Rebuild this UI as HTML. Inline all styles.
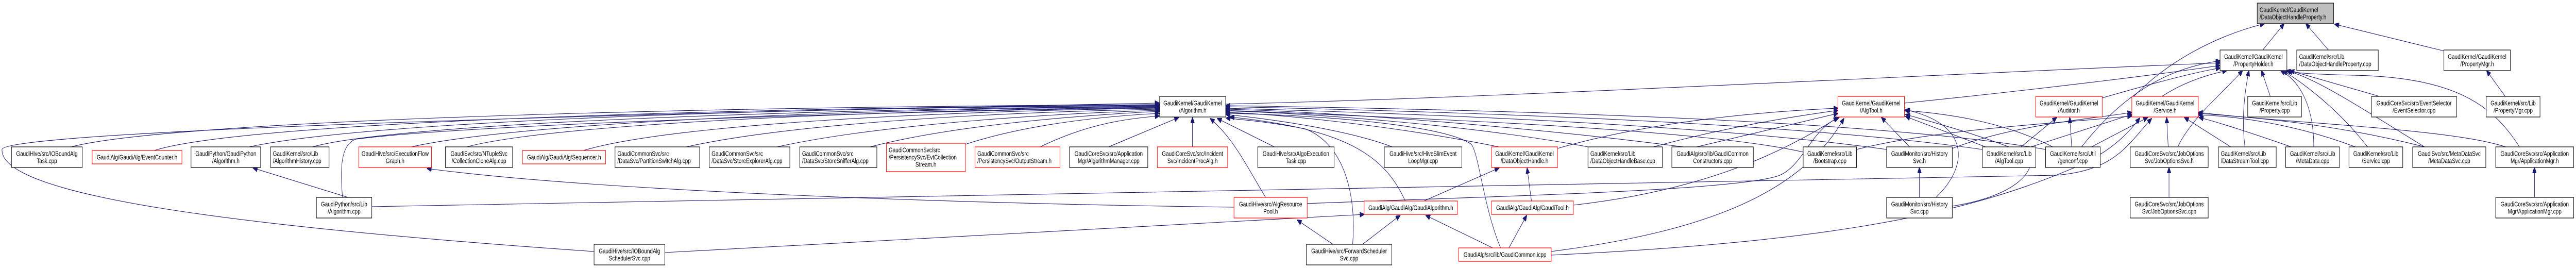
<!DOCTYPE html>
<html><head><meta charset="utf-8"><meta name="viewport" content="width=6513,initial-scale=1"><style>
html,body{margin:0;padding:0;background:#fff;width:100%;height:100%;overflow:hidden;}
svg{display:block;position:fixed;left:0;top:0;width:100vw;height:100vh;}
text{font-family:"Liberation Sans",Arial,sans-serif;font-size:13px;fill:#000;}
.e{fill:none;stroke:#191970;stroke-width:1.1;}
rect{stroke-width:1.2;}
.b{fill:#fff;stroke:#000;}
.r{fill:#fff;stroke:#ff0000;}
.g{fill:#bfbfbf;stroke:#000;}
</style></head><body>
<svg viewBox="0 0 6513 520" preserveAspectRatio="none" xmlns="http://www.w3.org/2000/svg">
<defs><marker id="a" markerWidth="12" markerHeight="10" refX="11" refY="5" orient="auto" markerUnits="userSpaceOnUse"><path d="M0,0 L12,5 L0,10 z" fill="#191970" stroke="#191970"/></marker></defs>
<g>
<path class="e" marker-end="url(#a)" d="M3099,202 C3800,190 5000,140 5613,122"/>
<path class="e" marker-end="url(#a)" d="M4815,200 C5200,170 5500,140 5613,127"/>
<path class="e" marker-end="url(#a)" d="M5315,190 C5450,160 5550,140 5613,132"/>
<path class="e" marker-end="url(#a)" d="M5466,187 C5520,160 5580,145 5630,137"/>
<path class="e" marker-end="url(#a)" d="M5395,187 C5480,120 5600,70 5725,46"/>
<path class="e" marker-end="url(#a)" d="M5721,97 L5775,46"/>
<path class="e" marker-end="url(#a)" d="M5887,97 L5830,46"/>
<path class="e" marker-end="url(#a)" d="M6180,99 L5903,47"/>
<path class="e" marker-end="url(#a)" d="M5740,187 L5718,137"/>
<path class="e" marker-end="url(#a)" d="M6016,187 L5790,137"/>
<path class="e" marker-end="url(#a)" d="M6334,187 L6287,137"/>
<path class="e" marker-end="url(#a)" d="M6370,285 C6300,200 6200,150 5950,146 C5850,144 5800,142 5785,137"/>
<path class="e" marker-end="url(#a)" d="M6335,285 C6200,250 5800,240 5558,218"/>
<path class="e" marker-end="url(#a)" d="M6130,285 C5900,240 5700,228 5558,220"/>
<path class="e" marker-end="url(#a)" d="M6130,285 C5950,200 5850,150 5780,137"/>
<path class="e" marker-end="url(#a)" d="M5955,285 C5800,240 5650,225 5558,223"/>
<path class="e" marker-end="url(#a)" d="M5986,285 C5900,200 5800,150 5772,137"/>
<path class="e" marker-end="url(#a)" d="M5793,285 C5700,260 5600,235 5560,228"/>
<path class="e" marker-end="url(#a)" d="M5850,285 C5850,200 5810,155 5766,137"/>
<path class="e" marker-end="url(#a)" d="M5640,285 L5523,228"/>
<path class="e" marker-end="url(#a)" d="M5676,285 C5665,220 5680,160 5686,137"/>
<path class="e" marker-end="url(#a)" d="M5482,285 L5478,228"/>
<path class="e" marker-end="url(#a)" d="M5506,285 C5540,230 5620,180 5670,137"/>
<path class="e" marker-end="url(#a)" d="M5484,383 L5484,325"/>
<path class="e" marker-end="url(#a)" d="M6408,383 L6408,325"/>
<path class="e" marker-end="url(#a)" d="M5288,285 L5430,228"/>
<path class="e" marker-end="url(#a)" d="M5238,285 L5233,228"/>
<path class="e" marker-end="url(#a)" d="M5190,285 C5050,230 4900,220 4815,214"/>
<path class="e" marker-end="url(#a)" d="M5263,285 C5380,170 5500,130 5613,118"/>
<path class="e" marker-end="url(#a)" d="M5020,285 L4818,226"/>
<path class="e" marker-end="url(#a)" d="M5110,285 L5200,228"/>
<path class="e" marker-end="url(#a)" d="M5135,285 L5390,222"/>
<path class="e" marker-end="url(#a)" d="M4828,285 L4757,228"/>
<path class="e" marker-end="url(#a)" d="M4936,288 C5100,240 5300,230 5390,218"/>
<path class="e" marker-end="url(#a)" d="M4853,383 L4853,325"/>
<path class="e" marker-end="url(#a)" d="M4895,383 C4980,320 4980,240 4818,213"/>
<path class="e" marker-end="url(#a)" d="M4694,290 C4900,250 5200,240 5390,225"/>
<path class="e" marker-end="url(#a)" d="M4559,295 C4300,250 3600,230 3099,214"/>
<path class="e" marker-end="url(#a)" d="M4770,290 C4400,250 3800,225 3099,210"/>
<path class="e" marker-end="url(#a)" d="M5012,290 C4600,245 3900,220 3099,207"/>
<path class="e" marker-end="url(#a)" d="M5172,290 C4800,240 4000,215 3099,205"/>
<path class="e" marker-end="url(#a)" d="M4180,285 C4400,240 4550,225 4647,214"/>
<path class="e" marker-end="url(#a)" d="M4290,285 L4647,220"/>
<path class="e" marker-end="url(#a)" d="M4015,285 C3700,240 3300,220 3099,215"/>
<path class="e" marker-end="url(#a)" d="M4256,285 C3800,240 3300,215 3099,212"/>
<path class="e" marker-end="url(#a)" d="M3938,288 C4200,230 4500,215 4647,210"/>
<path class="e" marker-end="url(#a)" d="M3790,285 C3500,240 3200,220 3099,218"/>
<path class="e" marker-end="url(#a)" d="M3520,285 C3400,250 3200,230 3099,222"/>
<path class="e" marker-end="url(#a)" d="M3222,285 L3078,230"/>
<path class="e" marker-end="url(#a)" d="M3015,285 L3015,228"/>
<path class="e" marker-end="url(#a)" d="M2803,285 L2980,228"/>
<path class="e" marker-end="url(#a)" d="M2630,285 C2750,240 2850,230 2931,225"/>
<path class="e" marker-end="url(#a)" d="M2441,280 C2600,240 2800,225 2931,220"/>
<path class="e" marker-end="url(#a)" d="M2200,285 C2400,245 2700,225 2931,216"/>
<path class="e" marker-end="url(#a)" d="M1965,285 C2200,245 2600,222 2931,214"/>
<path class="e" marker-end="url(#a)" d="M1735,285 C2000,240 2500,218 2931,212"/>
<path class="e" marker-end="url(#a)" d="M1475,292 C1700,240 2400,215 2931,210"/>
<path class="e" marker-end="url(#a)" d="M1180,285 C1400,240 2200,214 2931,208"/>
<path class="e" marker-end="url(#a)" d="M1040,285 C1300,240 2100,212 2931,207"/>
<path class="e" marker-end="url(#a)" d="M790,285 C1000,240 2000,212 2931,206"/>
<path class="e" marker-end="url(#a)" d="M630,285 C900,240 1800,210 2931,205"/>
<path class="e" marker-end="url(#a)" d="M390,292 C600,240 1700,210 2931,204"/>
<path class="e" marker-end="url(#a)" d="M180,285 C400,240 1500,208 2931,203"/>
<path class="e" marker-end="url(#a)" d="M1502,488 C600,440 0,380 5,290 C10,265 800,232 2931,200"/>
<path class="e" marker-end="url(#a)" d="M3553,390 C3500,300 3400,250 3110,227"/>
<path class="e" marker-end="url(#a)" d="M3600,390 L3790,326"/>
<path class="e" marker-end="url(#a)" d="M3872,390 L3861,326"/>
<path class="e" marker-end="url(#a)" d="M3978,398 C4300,370 4500,300 4647,228"/>
<path class="e" marker-end="url(#a)" d="M3774,481 L3605,418"/>
<path class="e" marker-end="url(#a)" d="M3815,481 L3860,418"/>
<path class="e" marker-end="url(#a)" d="M3794,481 C3750,400 3740,300 3720,280 C3650,240 3300,222 3099,220"/>
<path class="e" marker-end="url(#a)" d="M3922,488 C4300,450 4550,380 4662,230"/>
<path class="e" marker-end="url(#a)" d="M3445,474 L3540,418"/>
<path class="e" marker-end="url(#a)" d="M3370,474 L3280,427"/>
<path class="e" marker-end="url(#a)" d="M3420,474 C3430,380 3400,280 3300,250 C3200,235 3130,232 3100,229"/>
<path class="e" marker-end="url(#a)" d="M3200,383 C3150,320 3120,270 3060,230"/>
<path class="e" marker-end="url(#a)" d="M3120,402 C2400,395 1500,370 1080,327"/>
<path class="e" marker-end="url(#a)" d="M1681,490 C2400,460 3100,430 3449,416"/>
<path class="e" marker-end="url(#a)" d="M880,383 L640,326"/>
<path class="e" marker-end="url(#a)" d="M866,383 C860,330 860,280 900,270 C1200,240 2300,215 2931,209"/>
<path class="e" marker-end="url(#a)" d="M940,401 C2500,390 4000,370 5200,340 C5350,330 5380,280 5440,230"/>
<path class="e" marker-end="url(#a)" d="M3305,395 C3800,380 4400,370 4500,340 C4560,320 4580,250 4650,228"/>
<path class="e" marker-end="url(#a)" d="M4936,400 C5100,380 5150,330 5130,300 C5000,260 4900,240 4818,222"/>
<path class="e" marker-end="url(#a)" d="M3922,495 C4600,470 4950,420 5230,330 C5330,300 5380,260 5410,229"/>
</g>
<rect class="g" x="5707" y="6" width="193" height="40"/>
<text x="5713" y="23.5">GaudiKernel/GaudiKernel</text><text x="5713" y="37.5">/DataObjectHandleProperty.h</text>
<rect class="b" x="5613" y="97" width="169" height="40"/>
<text x="5697.5" y="114.5" text-anchor="middle">GaudiKernel/GaudiKernel</text><text x="5697.5" y="128.5" text-anchor="middle">/PropertyHolder.h</text>
<rect class="b" x="5807" y="97" width="206" height="40"/>
<text x="5813" y="114.5">GaudiKernel/src/Lib</text><text x="5813" y="128.5">/DataObjectHandleProperty.cpp</text>
<rect class="b" x="6179" y="97" width="168" height="40"/>
<text x="6263" y="114.5" text-anchor="middle">GaudiKernel/GaudiKernel</text><text x="6263" y="128.5" text-anchor="middle">/PropertyMgr.h</text>
<rect class="b" x="2932" y="187" width="167" height="40"/>
<text x="3015.5" y="204.5" text-anchor="middle">GaudiKernel/GaudiKernel</text><text x="3015.5" y="218.5" text-anchor="middle">/Algorithm.h</text>
<rect class="r" x="4647" y="187" width="168" height="40"/>
<text x="4731" y="204.5" text-anchor="middle">GaudiKernel/GaudiKernel</text><text x="4731" y="218.5" text-anchor="middle">/AlgTool.h</text>
<rect class="r" x="5147" y="187" width="168" height="40"/>
<text x="5231" y="204.5" text-anchor="middle">GaudiKernel/GaudiKernel</text><text x="5231" y="218.5" text-anchor="middle">/Auditor.h</text>
<rect class="r" x="5390" y="187" width="168" height="40"/>
<text x="5474" y="204.5" text-anchor="middle">GaudiKernel/GaudiKernel</text><text x="5474" y="218.5" text-anchor="middle">/Service.h</text>
<rect class="b" x="5683" y="187" width="136" height="40"/>
<text x="5751" y="204.5" text-anchor="middle">GaudiKernel/src/Lib</text><text x="5751" y="218.5" text-anchor="middle">/Property.cpp</text>
<rect class="b" x="5996" y="187" width="215" height="40"/>
<text x="6103.5" y="204.5" text-anchor="middle">GaudiCoreSvc/src/EventSelector</text><text x="6103.5" y="218.5" text-anchor="middle">/EventSelector.cpp</text>
<rect class="b" x="6286" y="187" width="136" height="40"/>
<text x="6354" y="204.5" text-anchor="middle">GaudiKernel/src/Lib</text><text x="6354" y="218.5" text-anchor="middle">/PropertyMgr.cpp</text>
<rect class="b" x="29" y="285" width="179" height="40"/>
<text x="118.5" y="302.5" text-anchor="middle">GaudiHive/src/IOBoundAlg</text><text x="118.5" y="316.5" text-anchor="middle">Task.cpp</text>
<rect class="r" x="233" y="292" width="227" height="26"/>
<text x="346.5" y="309.5" text-anchor="middle">GaudiAlg/GaudiAlg/EventCounter.h</text>
<rect class="b" x="483" y="285" width="176" height="40"/>
<text x="571" y="302.5" text-anchor="middle">GaudiPython/GaudiPython</text><text x="571" y="316.5" text-anchor="middle">/Algorithm.h</text>
<rect class="b" x="684" y="285" width="148" height="40"/>
<text x="690" y="302.5">GaudiKernel/src/Lib</text><text x="690" y="316.5">/AlgorithmHistory.cpp</text>
<rect class="r" x="907" y="285" width="184" height="40"/>
<text x="999" y="302.5" text-anchor="middle">GaudiHive/src/ExecutionFlow</text><text x="999" y="316.5" text-anchor="middle">Graph.h</text>
<rect class="b" x="1126" y="285" width="170" height="40"/>
<text x="1211" y="302.5" text-anchor="middle">GaudiSvc/src/NTupleSvc</text><text x="1211" y="316.5" text-anchor="middle">/CollectionCloneAlg.cpp</text>
<rect class="r" x="1321" y="292" width="210" height="26"/>
<text x="1426" y="309.5" text-anchor="middle">GaudiAlg/GaudiAlg/Sequencer.h</text>
<rect class="b" x="1555" y="285" width="214" height="40"/>
<text x="1561" y="302.5">GaudiCommonSvc/src</text><text x="1561" y="316.5">/DataSvc/PartitionSwitchAlg.cpp</text>
<rect class="b" x="1793" y="285" width="204" height="40"/>
<text x="1799" y="302.5">GaudiCommonSvc/src</text><text x="1799" y="316.5">/DataSvc/StoreExplorerAlg.cpp</text>
<rect class="b" x="2022" y="285" width="195" height="40"/>
<text x="2028" y="302.5">GaudiCommonSvc/src</text><text x="2028" y="316.5">/DataSvc/StoreSnifferAlg.cpp</text>
<rect class="r" x="2241" y="278" width="200" height="55"/>
<text x="2247" y="295.5">GaudiCommonSvc/src</text><text x="2247" y="309.5">/PersistencySvc/EvtCollection</text><text x="2341" y="323.5" text-anchor="middle">Stream.h</text>
<rect class="r" x="2465" y="285" width="215" height="40"/>
<text x="2471" y="302.5">GaudiCommonSvc/src</text><text x="2471" y="316.5">/PersistencySvc/OutputStream.h</text>
<rect class="b" x="2704" y="285" width="198" height="40"/>
<text x="2803" y="302.5" text-anchor="middle">GaudiCoreSvc/src/Application</text><text x="2803" y="316.5" text-anchor="middle">Mgr/AlgorithmManager.cpp</text>
<rect class="r" x="2926" y="285" width="178" height="40"/>
<text x="3015" y="302.5" text-anchor="middle">GaudiCoreSvc/src/Incident</text><text x="3015" y="316.5" text-anchor="middle">Svc/IncidentProcAlg.h</text>
<rect class="b" x="3180" y="285" width="193" height="40"/>
<text x="3276.5" y="302.5" text-anchor="middle">GaudiHive/src/AlgoExecution</text><text x="3276.5" y="316.5" text-anchor="middle">Task.cpp</text>
<rect class="b" x="3500" y="285" width="196" height="40"/>
<text x="3598" y="302.5" text-anchor="middle">GaudiHive/src/HiveSlimEvent</text><text x="3598" y="316.5" text-anchor="middle">LoopMgr.cpp</text>
<rect class="r" x="3771" y="285" width="167" height="40"/>
<text x="3854.5" y="302.5" text-anchor="middle">GaudiKernel/GaudiKernel</text><text x="3854.5" y="316.5" text-anchor="middle">/DataObjectHandle.h</text>
<rect class="b" x="4015" y="285" width="188" height="40"/>
<text x="4021" y="302.5">GaudiKernel/src/Lib</text><text x="4021" y="316.5">/DataObjectHandleBase.cpp</text>
<rect class="b" x="4227" y="285" width="206" height="40"/>
<text x="4330" y="302.5" text-anchor="middle">GaudiAlg/src/lib/GaudiCommon</text><text x="4330" y="316.5" text-anchor="middle">Constructors.cpp</text>
<rect class="b" x="4559" y="285" width="135" height="40"/>
<text x="4626.5" y="302.5" text-anchor="middle">GaudiKernel/src/Lib</text><text x="4626.5" y="316.5" text-anchor="middle">/Bootstrap.cpp</text>
<rect class="b" x="4770" y="285" width="166" height="40"/>
<text x="4853" y="302.5" text-anchor="middle">GaudiMonitor/src/History</text><text x="4853" y="316.5" text-anchor="middle">Svc.h</text>
<rect class="b" x="5012" y="285" width="135" height="40"/>
<text x="5079.5" y="302.5" text-anchor="middle">GaudiKernel/src/Lib</text><text x="5079.5" y="316.5" text-anchor="middle">/AlgTool.cpp</text>
<rect class="b" x="5172" y="285" width="138" height="40"/>
<text x="5241" y="302.5" text-anchor="middle">GaudiKernel/src/Util</text><text x="5241" y="316.5" text-anchor="middle">/genconf.cpp</text>
<rect class="b" x="5386" y="285" width="197" height="40"/>
<text x="5484.5" y="302.5" text-anchor="middle">GaudiCoreSvc/src/JobOptions</text><text x="5484.5" y="316.5" text-anchor="middle">Svc/JobOptionsSvc.h</text>
<rect class="b" x="5609" y="285" width="146" height="40"/>
<text x="5615" y="302.5">GaudiKernel/src/Lib</text><text x="5615" y="316.5">/DataStreamTool.cpp</text>
<rect class="b" x="5779" y="285" width="136" height="40"/>
<text x="5847" y="302.5" text-anchor="middle">GaudiKernel/src/Lib</text><text x="5847" y="316.5" text-anchor="middle">/MetaData.cpp</text>
<rect class="b" x="5939" y="285" width="136" height="40"/>
<text x="6007" y="302.5" text-anchor="middle">GaudiKernel/src/Lib</text><text x="6007" y="316.5" text-anchor="middle">/Service.cpp</text>
<rect class="b" x="6100" y="285" width="185" height="40"/>
<text x="6192.5" y="302.5" text-anchor="middle">GaudiSvc/src/MetaDataSvc</text><text x="6192.5" y="316.5" text-anchor="middle">/MetaDataSvc.cpp</text>
<rect class="b" x="6310" y="285" width="197" height="40"/>
<text x="6408.5" y="302.5" text-anchor="middle">GaudiCoreSvc/src/Application</text><text x="6408.5" y="316.5" text-anchor="middle">Mgr/ApplicationMgr.h</text>
<rect class="b" x="800" y="383" width="140" height="40"/>
<text x="870" y="400.5" text-anchor="middle">GaudiPython/src/Lib</text><text x="870" y="414.5" text-anchor="middle">/Algorithm.cpp</text>
<rect class="r" x="3120" y="383" width="185" height="40"/>
<text x="3212.5" y="400.5" text-anchor="middle">GaudiHive/src/AlgResource</text><text x="3212.5" y="414.5" text-anchor="middle">Pool.h</text>
<rect class="r" x="3449" y="390" width="236" height="26"/>
<text x="3567" y="407.5" text-anchor="middle">GaudiAlg/GaudiAlg/GaudiAlgorithm.h</text>
<rect class="r" x="3771" y="390" width="207" height="26"/>
<text x="3874.5" y="407.5" text-anchor="middle">GaudiAlg/GaudiAlg/GaudiTool.h</text>
<rect class="b" x="4770" y="383" width="166" height="40"/>
<text x="4853" y="400.5" text-anchor="middle">GaudiMonitor/src/History</text><text x="4853" y="414.5" text-anchor="middle">Svc.cpp</text>
<rect class="b" x="5386" y="383" width="197" height="40"/>
<text x="5484.5" y="400.5" text-anchor="middle">GaudiCoreSvc/src/JobOptions</text><text x="5484.5" y="414.5" text-anchor="middle">Svc/JobOptionsSvc.cpp</text>
<rect class="b" x="6310" y="383" width="197" height="40"/>
<text x="6408.5" y="400.5" text-anchor="middle">GaudiCoreSvc/src/Application</text><text x="6408.5" y="414.5" text-anchor="middle">Mgr/ApplicationMgr.cpp</text>
<rect class="b" x="1502" y="474" width="179" height="40"/>
<text x="1591.5" y="491.5" text-anchor="middle">GaudiHive/src/IOBoundAlg</text><text x="1591.5" y="505.5" text-anchor="middle">SchedulerSvc.cpp</text>
<rect class="b" x="3303" y="474" width="216" height="40"/>
<text x="3411" y="491.5" text-anchor="middle">GaudiHive/src/ForwardScheduler</text><text x="3411" y="505.5" text-anchor="middle">Svc.cpp</text>
<rect class="r" x="3688" y="481" width="234" height="26"/>
<text x="3805" y="498.5" text-anchor="middle">GaudiAlg/src/lib/GaudiCommon.icpp</text>
</svg>
</body></html>
